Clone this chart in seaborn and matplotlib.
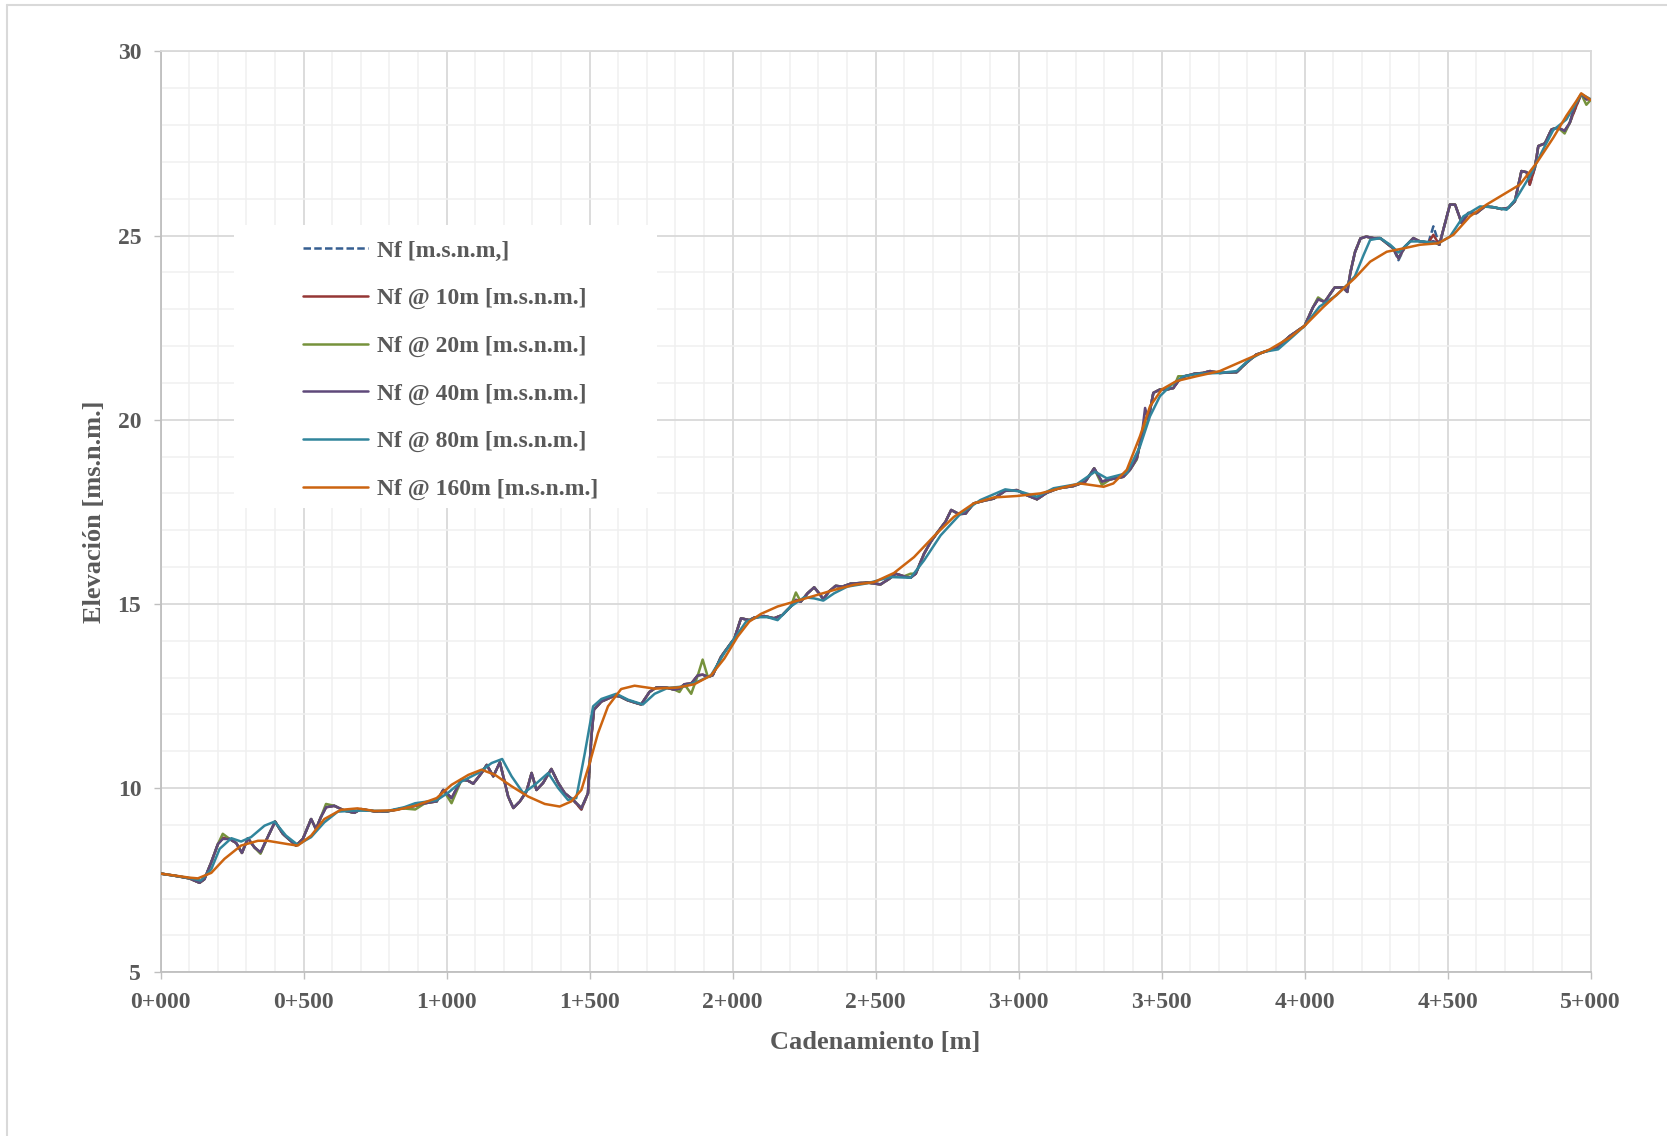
import numpy as np
import matplotlib
matplotlib.use("Agg")
import matplotlib.pyplot as plt
from matplotlib.patches import Rectangle
from matplotlib.lines import Line2D
from matplotlib.ticker import MultipleLocator, FuncFormatter
import seaborn as sns

# --- data (station in m, elevation in m.s.n.m.) ---
st_fine = [0, 50, 100, 136, 153, 177, 200, 217, 241, 264,
           284, 305, 328, 349, 374, 400, 427, 473, 497, 526,
           543, 560, 578, 607, 642, 677, 700, 747, 793, 845,
           890, 924, 965, 988, 1017, 1052, 1075, 1093, 1122, 1140,
           1163, 1186, 1215, 1233, 1256, 1279, 1297, 1314, 1337, 1366,
           1390, 1413, 1442, 1471, 1494, 1506, 1515, 1541, 1587, 1605,
           1634, 1680, 1709, 1733, 1767, 1797, 1814, 1831, 1855, 1878,
           1895, 1913, 1930, 1959, 1983, 2006, 2029, 2058, 2076, 2110,
           2145, 2174, 2203, 2221, 2238, 2262, 2285, 2302, 2317, 2337,
           2360, 2384, 2413, 2471, 2517, 2547, 2570, 2599, 2622, 2640,
           2669, 2692, 2715, 2744, 2764, 2791, 2814, 2843, 2878, 2913,
           2953, 2994, 3029, 3064, 3099, 3140, 3192, 3233, 3264, 3291,
           3320, 3366, 3390, 3413, 3430, 3442, 3453, 3471, 3494, 3517,
           3541, 3558, 3581, 3616, 3645, 3669, 3703, 3762, 3797, 3831,
           3866, 3901, 3948, 4000, 4029, 4047, 4070, 4105, 4134, 4149,
           4160, 4176, 4195, 4215, 4241, 4264, 4287, 4310, 4328, 4351,
           4380, 4403, 4433, 4450, 4471, 4491, 4508, 4526, 4549, 4572,
           4601, 4630, 4659, 4688, 4712, 4735, 4758, 4776, 4787, 4805,
           4817, 4840, 4863, 4886, 4909, 4927, 4944, 4967, 4985, 5000]

z_nf = [7.68, 7.62, 7.55, 7.43, 7.53, 7.99, 8.48, 8.65, 8.62, 8.51,
        8.24, 8.64, 8.39, 8.24, 8.67, 9.09, 8.76, 8.44, 8.62, 9.16,
        8.89, 9.21, 9.48, 9.52, 9.39, 9.33, 9.43, 9.37, 9.37, 9.45,
        9.52, 9.59, 9.64, 9.95, 9.73, 10.23, 10.20, 10.12, 10.41, 10.63,
        10.32, 10.70, 9.77, 9.46, 9.64, 9.91, 10.41, 9.95, 10.14, 10.52,
        10.14, 9.86, 9.68, 9.42, 9.86, 11.40, 12.13, 12.35, 12.51, 12.49,
        12.38, 12.27, 12.61, 12.73, 12.73, 12.67, 12.70, 12.82, 12.84, 13.06,
        13.08, 13.02, 13.06, 13.56, 13.82, 14.06, 14.61, 14.56, 14.63, 14.67,
        14.61, 14.70, 14.93, 15.11, 15.06, 15.29, 15.45, 15.29, 15.13, 15.34,
        15.49, 15.47, 15.55, 15.58, 15.53, 15.68, 15.82, 15.75, 15.71, 15.82,
        16.36, 16.68, 16.93, 17.23, 17.55, 17.44, 17.45, 17.73, 17.80, 17.86,
        18.07, 18.09, 17.95, 17.84, 18.02, 18.14, 18.20, 18.32, 18.68, 18.32,
        18.38, 18.45, 18.65, 18.95, 19.55, 20.05, 20.00, 20.73, 20.82, 20.82,
        20.86, 21.05, 21.18, 21.25, 21.27, 21.32, 21.27, 21.29, 21.55, 21.77,
        21.86, 21.95, 22.27, 22.55, 23.05, 23.27, 23.20, 23.59, 23.59, 23.47,
        24.00, 24.55, 24.92, 24.97, 24.93, 24.93, 24.79, 24.65, 24.33, 24.70,
        24.93, 24.84, 24.81, 25.25, 24.75, 25.34, 25.84, 25.84, 25.34, 25.61,
        25.61, 25.79, 25.77, 25.72, 25.75, 25.93, 26.75, 26.72, 26.38, 26.84,
        27.43, 27.50, 27.88, 27.93, 27.84, 28.06, 28.40, 28.84, 28.70, 28.70]

z_10 = [7.68, 7.62, 7.55, 7.43, 7.53, 7.99, 8.48, 8.65, 8.62, 8.51,
        8.24, 8.64, 8.39, 8.24, 8.67, 9.09, 8.76, 8.44, 8.62, 9.16,
        8.89, 9.21, 9.48, 9.52, 9.39, 9.33, 9.43, 9.37, 9.37, 9.45,
        9.52, 9.59, 9.64, 9.95, 9.73, 10.23, 10.20, 10.12, 10.41, 10.63,
        10.32, 10.70, 9.77, 9.46, 9.64, 9.91, 10.41, 9.95, 10.14, 10.52,
        10.14, 9.86, 9.68, 9.42, 9.86, 11.40, 12.13, 12.35, 12.51, 12.49,
        12.38, 12.27, 12.61, 12.73, 12.73, 12.67, 12.70, 12.82, 12.84, 13.06,
        13.08, 13.02, 13.06, 13.56, 13.82, 14.06, 14.61, 14.56, 14.63, 14.67,
        14.61, 14.70, 14.93, 15.11, 15.06, 15.29, 15.45, 15.29, 15.13, 15.34,
        15.49, 15.47, 15.55, 15.58, 15.53, 15.68, 15.82, 15.75, 15.71, 15.82,
        16.36, 16.68, 16.93, 17.23, 17.55, 17.44, 17.45, 17.73, 17.80, 17.86,
        18.07, 18.09, 17.95, 17.84, 18.02, 18.14, 18.20, 18.32, 18.68, 18.32,
        18.38, 18.45, 18.65, 18.95, 19.55, 20.05, 20.00, 20.73, 20.82, 20.82,
        20.86, 21.05, 21.18, 21.25, 21.27, 21.32, 21.27, 21.29, 21.55, 21.77,
        21.86, 21.95, 22.27, 22.55, 23.05, 23.27, 23.20, 23.59, 23.59, 23.47,
        24.00, 24.55, 24.92, 24.97, 24.93, 24.93, 24.79, 24.65, 24.38, 24.70,
        24.93, 24.84, 24.81, 25.02, 24.75, 25.34, 25.84, 25.84, 25.34, 25.61,
        25.61, 25.79, 25.77, 25.72, 25.75, 25.93, 26.75, 26.72, 26.38, 26.84,
        27.43, 27.50, 27.88, 27.93, 27.84, 28.06, 28.40, 28.84, 28.70, 28.70]

z_20 = [7.68, 7.62, 7.55, 7.43, 7.53, 7.99, 8.48, 8.76, 8.62, 8.51,
        8.24, 8.64, 8.39, 8.22, 8.67, 9.09, 8.76, 8.44, 8.62, 9.16,
        8.89, 9.21, 9.57, 9.52, 9.39, 9.33, 9.43, 9.37, 9.37, 9.45,
        9.42, 9.59, 9.64, 9.95, 9.59, 10.23, 10.20, 10.12, 10.41, 10.63,
        10.32, 10.70, 9.77, 9.46, 9.64, 9.91, 10.41, 9.95, 10.14, 10.52,
        10.14, 9.86, 9.68, 9.46, 9.86, 11.40, 12.13, 12.35, 12.51, 12.49,
        12.38, 12.27, 12.61, 12.73, 12.73, 12.67, 12.61, 12.82, 12.56, 13.06,
        13.49, 13.02, 13.06, 13.56, 13.82, 14.06, 14.61, 14.56, 14.63, 14.67,
        14.61, 14.70, 14.93, 15.31, 15.06, 15.29, 15.45, 15.29, 15.13, 15.34,
        15.49, 15.47, 15.55, 15.58, 15.53, 15.68, 15.82, 15.75, 15.82, 15.82,
        16.36, 16.68, 16.93, 17.23, 17.55, 17.44, 17.45, 17.73, 17.80, 17.86,
        18.07, 18.09, 17.95, 17.84, 18.02, 18.14, 18.20, 18.32, 18.68, 18.23,
        18.38, 18.45, 18.65, 18.92, 19.55, 19.80, 20.00, 20.73, 20.82, 20.82,
        20.86, 21.18, 21.18, 21.25, 21.27, 21.32, 21.27, 21.29, 21.55, 21.77,
        21.86, 21.95, 22.27, 22.55, 23.05, 23.32, 23.20, 23.59, 23.59, 23.47,
        24.00, 24.55, 24.92, 24.97, 24.93, 24.93, 24.79, 24.65, 24.38, 24.70,
        24.93, 24.84, 24.81, 24.83, 24.75, 25.34, 25.84, 25.84, 25.34, 25.61,
        25.61, 25.79, 25.77, 25.72, 25.75, 25.93, 26.75, 26.72, 26.60, 26.84,
        27.43, 27.50, 27.88, 27.93, 27.77, 28.06, 28.52, 28.84, 28.55, 28.68]

z_40 = [7.68, 7.62, 7.55, 7.43, 7.53, 7.99, 8.48, 8.62, 8.62, 8.51,
        8.24, 8.64, 8.39, 8.26, 8.67, 9.09, 8.76, 8.44, 8.62, 9.16,
        8.89, 9.21, 9.48, 9.52, 9.39, 9.33, 9.43, 9.37, 9.37, 9.45,
        9.52, 9.59, 9.64, 9.95, 9.73, 10.23, 10.20, 10.12, 10.41, 10.63,
        10.32, 10.70, 9.77, 9.46, 9.64, 9.91, 10.41, 9.95, 10.14, 10.52,
        10.14, 9.86, 9.68, 9.46, 9.86, 11.40, 12.13, 12.35, 12.51, 12.49,
        12.38, 12.27, 12.61, 12.73, 12.73, 12.67, 12.70, 12.82, 12.84, 13.06,
        13.08, 13.02, 13.06, 13.56, 13.82, 14.06, 14.61, 14.56, 14.63, 14.67,
        14.61, 14.70, 14.93, 15.11, 15.06, 15.29, 15.45, 15.29, 15.13, 15.34,
        15.49, 15.47, 15.55, 15.58, 15.53, 15.68, 15.82, 15.75, 15.71, 15.82,
        16.36, 16.68, 16.93, 17.23, 17.55, 17.44, 17.45, 17.73, 17.80, 17.86,
        18.07, 18.09, 17.95, 17.84, 18.02, 18.14, 18.20, 18.32, 18.68, 18.32,
        18.38, 18.45, 18.65, 18.95, 19.55, 20.32, 20.00, 20.73, 20.82, 20.82,
        20.86, 21.05, 21.18, 21.25, 21.27, 21.32, 21.27, 21.29, 21.55, 21.77,
        21.86, 21.95, 22.27, 22.55, 23.05, 23.27, 23.20, 23.59, 23.59, 23.47,
        24.00, 24.55, 24.92, 24.97, 24.93, 24.93, 24.79, 24.65, 24.38, 24.70,
        24.93, 24.84, 24.81, 24.85, 24.75, 25.34, 25.84, 25.84, 25.34, 25.61,
        25.61, 25.79, 25.77, 25.72, 25.75, 25.93, 26.75, 26.72, 26.60, 26.84,
        27.43, 27.50, 27.88, 27.93, 27.84, 28.06, 28.52, 28.84, 28.70, 28.70]

st_80 = [0, 100, 140, 177, 206, 247, 281, 316, 363, 398,
         438, 479, 526, 572, 619, 677, 793, 851, 890, 965,
         1006, 1052, 1110, 1157, 1194, 1227, 1268, 1308, 1355, 1390,
         1424, 1453, 1483, 1512, 1541, 1593, 1634, 1686, 1727, 1773,
         1831, 1884, 1924, 1971, 2006, 2047, 2087, 2122, 2157, 2203,
         2250, 2285, 2317, 2355, 2401, 2471, 2552, 2622, 2669, 2727,
         2797, 2866, 2953, 3006, 3064, 3122, 3203, 3267, 3308, 3378,
         3424, 3459, 3494, 3535, 3576, 3634, 3703, 3762, 3808, 3855,
         3907, 3960, 4000, 4052, 4111, 4151, 4176, 4206, 4229, 4264,
         4299, 4328, 4369, 4415, 4467, 4508, 4555, 4613, 4659, 4706,
         4741, 4787, 4834, 4869, 4915, 4967, 5000]
z_80 = [7.68, 7.56, 7.49, 7.80, 8.35, 8.64, 8.55, 8.67, 8.98, 9.09,
        8.71, 8.46, 8.67, 9.07, 9.36, 9.39, 9.38, 9.48, 9.59, 9.67,
        9.88, 10.18, 10.41, 10.68, 10.79, 10.32, 9.86, 10.09, 10.41, 10.00,
        9.68, 9.73, 10.95, 12.22, 12.42, 12.56, 12.40, 12.27, 12.56, 12.72,
        12.76, 12.91, 13.06, 13.67, 14.06, 14.52, 14.64, 14.64, 14.56, 14.93,
        15.18, 15.15, 15.09, 15.29, 15.47, 15.56, 15.73, 15.71, 16.18, 16.86,
        17.45, 17.82, 18.11, 18.05, 17.91, 18.14, 18.25, 18.59, 18.41, 18.55,
        19.27, 20.09, 20.64, 20.95, 21.18, 21.25, 21.27, 21.32, 21.64, 21.84,
        21.91, 22.27, 22.55, 23.07, 23.38, 23.68, 23.90, 24.47, 24.88, 24.93,
        24.75, 24.54, 24.84, 24.84, 24.79, 24.97, 25.52, 25.79, 25.77, 25.70,
        26.02, 26.61, 27.34, 27.86, 28.15, 28.84, 28.70]

st_160 = [0, 100, 130, 177, 223, 281, 340, 374, 444, 479,
          526, 572, 630, 688, 747, 820, 890, 965, 1017, 1076,
          1122, 1169, 1227, 1285, 1343, 1395, 1436, 1471, 1500, 1529,
          1564, 1610, 1657, 1727, 1808, 1866, 1924, 1971, 2017, 2058,
          2099, 2157, 2215, 2285, 2355, 2424, 2494, 2564, 2634, 2704,
          2773, 2843, 2913, 2994, 3076, 3145, 3215, 3297, 3331, 3378,
          3424, 3459, 3500, 3552, 3622, 3703, 3797, 3878, 3948, 4000,
          4064, 4134, 4176, 4229, 4287, 4345, 4403, 4467, 4520, 4578,
          4636, 4694, 4752, 4811, 4869, 4915, 4950, 4967, 5000]
z_160 = [7.68, 7.57, 7.55, 7.70, 8.08, 8.44, 8.57, 8.57, 8.48, 8.44,
         8.71, 9.16, 9.41, 9.45, 9.38, 9.40, 9.52, 9.73, 10.09, 10.36,
         10.50, 10.36, 10.05, 9.77, 9.57, 9.50, 9.64, 9.95, 10.68, 11.49,
         12.22, 12.69, 12.78, 12.70, 12.73, 12.82, 13.06, 13.52, 14.11, 14.52,
         14.73, 14.93, 15.06, 15.22, 15.38, 15.52, 15.59, 15.84, 16.27, 16.84,
         17.36, 17.73, 17.89, 17.93, 18.00, 18.14, 18.27, 18.18, 18.27, 18.64,
         19.55, 20.36, 20.82, 21.05, 21.18, 21.32, 21.64, 21.91, 22.23, 22.55,
         23.05, 23.55, 23.85, 24.29, 24.56, 24.65, 24.75, 24.79, 25.02, 25.52,
         25.84, 26.11, 26.38, 26.97, 27.65, 28.25, 28.65, 28.86, 28.68]

labels = ["Nf [m.s.n.m,]", "Nf @ 10m [m.s.n.m.]", "Nf @ 20m [m.s.n.m.]",
          "Nf @ 40m [m.s.n.m.]", "Nf @ 80m [m.s.n.m.]", "Nf @ 160m [m.s.n.m.]"]
colors = ["#365F91", "#953735", "#76923C", "#5F497A", "#31859C", "#CC6410"]

series = [(st_fine, z_nf), (st_fine, z_10), (st_fine, z_20),
          (st_fine, z_40), (st_80, z_80), (st_160, z_160)]

sns.set_theme(style="white")
plt.rcParams['font.family'] = ['Liberation Serif', 'DejaVu Serif']
plt.rcParams['font.weight'] = 'bold'
txt = '#595959'

fig = plt.figure(figsize=(16.67, 11.36), dpi=100)
ax = fig.add_axes([0.0964, 0.1441, 0.8578, 0.8107])

for i, ((xs, ys), lab, col) in enumerate(zip(series, labels, colors)):
    ls = (0, (3, 1.3)) if i == 0 else '-'
    sns.lineplot(x=np.array(xs), y=np.array(ys), ax=ax, color=col, lw=1.8,
                 linestyle=ls, label=lab, sort=False, estimator=None, zorder=3)

ax.set_xlim(0, 5000)
ax.set_ylim(5, 30)
ax.xaxis.set_major_locator(MultipleLocator(500))
ax.xaxis.set_minor_locator(MultipleLocator(100))
ax.yaxis.set_major_locator(MultipleLocator(5))
ax.yaxis.set_minor_locator(MultipleLocator(1))
ax.xaxis.set_major_formatter(FuncFormatter(lambda v, p: f"{int(v) // 1000}+{int(v) % 1000:03d}"))
ax.yaxis.set_major_formatter(FuncFormatter(lambda v, p: f"{int(v)}"))

ax.set_axisbelow(True)
ax.grid(which='major', color='#D9D9D9', lw=1.3)
ax.grid(which='minor', color='#F0F0F0', lw=1.1)
ax.tick_params(which='major', direction='out', length=5, width=1, color='#BFBFBF',
               labelsize=17, labelcolor=txt, pad=9, bottom=True, left=True)
ax.tick_params(which='minor', length=0)
for s in ['left', 'bottom']:
    ax.spines[s].set_color('#BFBFBF')
    ax.spines[s].set_linewidth(1.3)
for s in ['top', 'right']:
    ax.spines[s].set_color('#D9D9D9')
    ax.spines[s].set_linewidth(1.3)

ax.set_xlabel("Cadenamiento [m]", fontsize=19, fontweight='bold', color=txt, labelpad=13)
ax.set_ylabel("Elevación [ms.n.m.]", fontsize=19, fontweight='bold', color=txt, labelpad=8)

# white box behind the legend, as in the original chart
ax.add_patch(Rectangle((0.0513, 0.504), 0.296, 0.307, transform=ax.transAxes,
                       facecolor='white', edgecolor='none', zorder=1))
handles, labs = ax.get_legend_handles_labels()
leg = ax.legend(handles, labs, loc='upper left', bbox_to_anchor=(0.0995, 0.795),
                frameon=False, fontsize=17, handlelength=2.75, handletextpad=0.4,
                labelspacing=1.1, borderpad=0, borderaxespad=0, labelcolor=txt)
leg.set_zorder(5)

# chart border
fig.add_artist(Line2D([7 / 1667, 7 / 1667], [0, 1 - 5 / 1136], transform=fig.transFigure,
                      color='#D9D9D9', lw=1.5))
fig.add_artist(Line2D([7 / 1667, 1], [1 - 5 / 1136, 1 - 5 / 1136], transform=fig.transFigure,
                      color='#D9D9D9', lw=1.5))

fig.savefig('out.png', dpi=100)
